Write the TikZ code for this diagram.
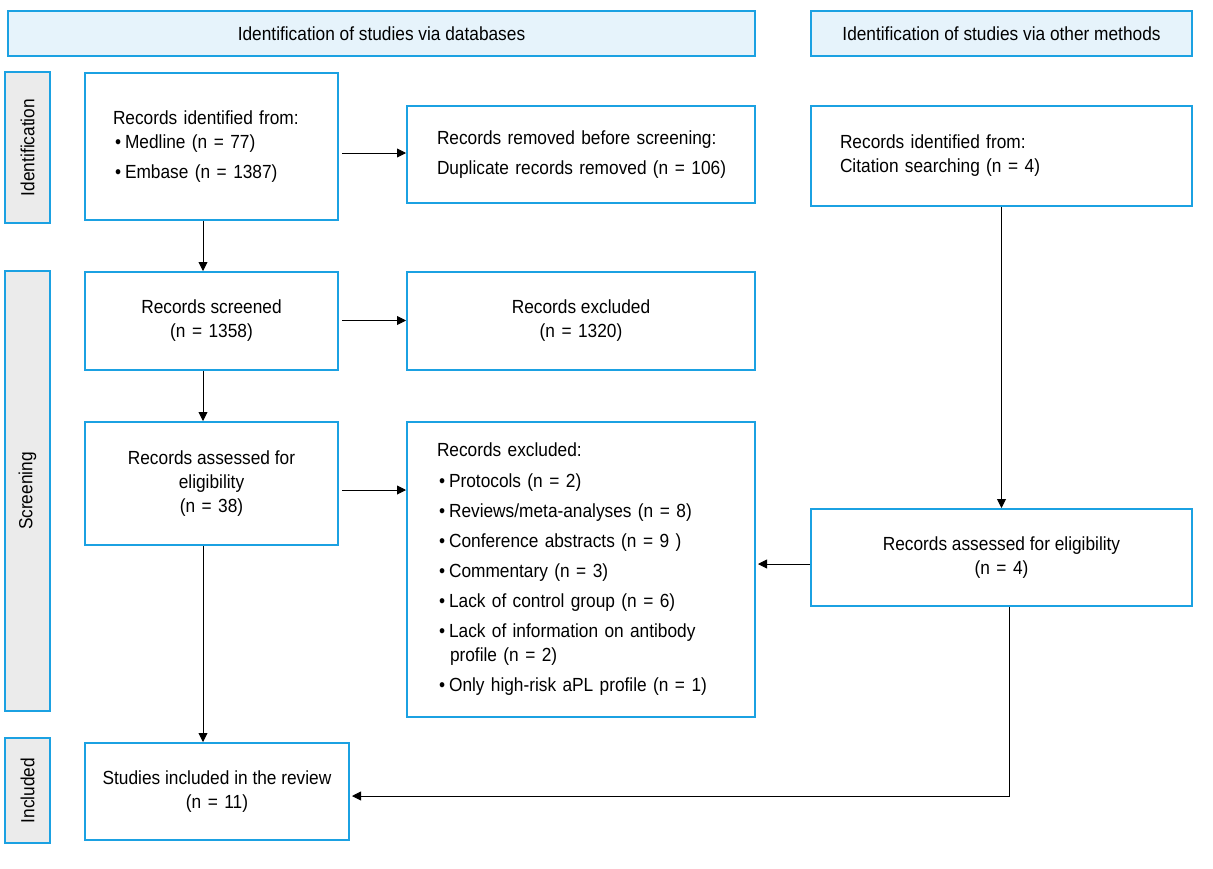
\documentclass[tikz,border=0pt]{standalone}
\usepackage{fontspec}
\setmainfont{Liberation Sans}[FakeStretch=0.91]
\usetikzlibrary{arrows.meta}
\definecolor{bblue}{HTML}{1BA1E2}
\definecolor{hfill}{HTML}{E6F3FB}
\definecolor{sfill}{HTML}{EBEBEB}
\newcommand{\bul}[1]{\hspace*{2pt}\textbullet\hspace{4pt}#1}
\newcommand{\Eq}{\hspace{6.5pt}=\hspace{6.5pt}}
\begin{document}
\begin{tikzpicture}[x=1pt,y=-1pt,
  font=\fontsize{19}{24}\selectfont,
  box/.style={draw=bblue, line width=2pt, rectangle, inner sep=0pt, fill=white},
  hdr/.style={box, fill=hfill},
  side/.style={box, fill=sfill, rotate=90},
  arr/.style={line width=0.9pt, -{Triangle[length=9pt,width=9pt]}, color=black}]
\useasboundingbox (0,0) rectangle (1213,868);
% headers
\node[hdr, minimum width=747, minimum height=45, anchor=north west] (h1) at (7,10) {Identification of studies via databases};
\node[hdr, minimum width=381, minimum height=45, anchor=north west] (h2) at (810,10) {Identification of studies via other methods};
% side labels
\node[side, minimum width=151, minimum height=45] (s1) at (27.5,147.5) {Identification};
\node[side, minimum width=440, minimum height=45] (s2) at (27.5,491) {Screening};
\node[side, minimum width=105, minimum height=45] (s3) at (27.5,790.5) {Included};
% boxes
\node[box, minimum width=253, minimum height=147, anchor=north west, text width=197, align=left] (A) at (84,72)
  {Records identified from:\\
   \bul{Medline (n\Eq 77)}\\[6pt]
   \bul{Embase (n\Eq 1387)}};
\node[box, minimum width=348, minimum height=97, anchor=north west, text width=288, align=left] (B) at (406,105)
  {Records removed before screening:\\[6pt]
   \mbox{Duplicate records removed (n\Eq 106)}};
\node[box, minimum width=381, minimum height=100, anchor=north west, text width=323, align=left] (C) at (810,105)
  {Records identified from:\\
   Citation searching (n\Eq 4)};
\node[box, minimum width=253, minimum height=98, anchor=north west, align=center] (D) at (84,271)
  {Records screened\\(n\Eq 1358)};
\node[box, minimum width=348, minimum height=98, anchor=north west, align=center] (E) at (406,271)
  {Records excluded\\(n\Eq 1320)};
\node[box, minimum width=253, minimum height=123, anchor=north west, align=center] (F) at (84,421)
  {Records assessed for\\eligibility\\(n\Eq 38)};
\node[box, minimum width=348, minimum height=295, anchor=north west, text width=288, align=left] (G) at (406,421)
  {Records excluded:\\[7pt]
   \bul{Protocols (n\Eq 2)}\\[6pt]
   \bul{Reviews/meta-analyses (n\Eq 8)}\\[6pt]
   \bul{Conference abstracts (n\Eq 9 )}\\[6pt]
   \bul{Commentary (n\Eq 3)}\\[6pt]
   \bul{Lack of control group (n\Eq 6)}\\[6pt]
   \bul{Lack of information on antibody}\\
   \hspace*{13pt}profile (n\Eq 2)\\[6pt]
   \bul{Only high-risk aPL profile (n\Eq 1)}};
\node[box, minimum width=381, minimum height=97, anchor=north west, align=center] (H) at (810,508)
  {Records assessed for eligibility\\(n\Eq 4)};
\node[box, minimum width=264, minimum height=97, anchor=north west, align=center] (I) at (84,742)
  {Studies included in the review\\(n\Eq 11)};
% connectors
\coordinate (a1) at ([yshift=-6.5pt]A.east);
\draw[arr] ([xshift=3pt]a1) -- (a1 -| B.west);
\draw[arr] ([xshift=-8.5pt]A.south) -- ([xshift=-8.5pt]D.north);
\coordinate (d1) at ([yshift=0.5pt]D.east);
\draw[arr] ([xshift=3pt]d1) -- (d1 -| E.west);
\draw[arr] ([xshift=-8.5pt]D.south) -- ([xshift=-8.5pt]F.north);
\coordinate (f1) at ([yshift=-6.5pt]F.east);
\draw[arr] ([xshift=3pt]f1) -- (f1 -| G.west);
\coordinate (f2) at ([xshift=-8.5pt]F.south);
\draw[arr] (f2) -- (f2 |- I.north);
\draw[arr] (C.south) -- (H.north);
\coordinate (h1c) at ([yshift=-6.5pt]H.west);
\draw[arr] (h1c) -- ([xshift=2pt]h1c -| G.east);
\draw[arr] ([xshift=7.5pt]H.south) |- ([yshift=-4.5pt,xshift=2pt]I.east);
\end{tikzpicture}
\end{document}
